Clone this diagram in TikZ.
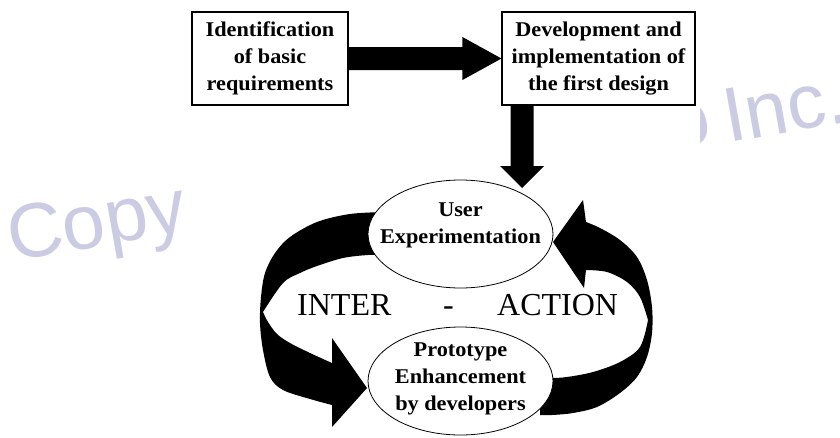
\documentclass[tikz,border=0pt]{standalone}
\usepackage{fontspec}
\setmainfont{Liberation Serif}
\newfontfamily\wmfont{Liberation Sans}
\newfontfamily\bxfont[FakeStretch=1.06]{Liberation Serif}
\usetikzlibrary{shapes.geometric,calc}
\definecolor{wm}{RGB}{203,203,228}
\tikzset{
  boxnode/.style={draw, line width=1.1pt, fill=white, align=center, inner sep=0pt,
    font=\bxfont\bfseries\fontsize{21}{27}\selectfont},
  ellnode/.style={ellipse, draw, line width=0.8pt, fill=white, inner sep=0pt,
    minimum width=185pt, minimum height=108pt},
  lbl/.style={align=center, inner sep=0pt, font=\bxfont\bfseries\fontsize{21}{27}\selectfont},
  bigtxt/.style={inner sep=0pt, font=\fontsize{32}{38}\selectfont},
  wmtxt/.style={text=wm, inner sep=0pt, rotate=10, font=\wmfont\fontsize{77}{80}\selectfont},
  blk/.style={fill=black}
}
\begin{document}
\begin{tikzpicture}[x=1pt, y=-1pt]
\fill[white] (0,0) rectangle (840,437);
\useasboundingbox (0,0) rectangle (840,437);

% watermark fragments
\node[wmtxt, anchor=base west] (wm1) at (12,262) {Copy};
\begin{scope}
  \clip (700,60) rectangle (720,170);
  \node[wmtxt, anchor=base west] (wm3) at (671,150) {o};
\end{scope}
\node[wmtxt, anchor=base west] (wm2) at (728,143) {Inc.};

% boxes
\node[boxnode, minimum width=156pt, minimum height=93pt] (b1) at (270,58.5)
  {Identification\\of basic\\requirements};
\node[boxnode, minimum width=193pt, minimum height=93pt] (b2) at (598.5,58.5)
  {Development and\\implementation of\\the first design};

% horizontal block arrow
\fill[blk] ($(b1.east)+(0,-11.5)$) -- ($(b2.west)+(-39,-11.5)$) -- ($(b2.west)+(-39,-21.5)$)
  -- (b2.west) -- ($(b2.west)+(-39,21.5)$) -- ($(b2.west)+(-39,11.5)$)
  -- ($(b1.east)+(0,11.5)$) -- cycle;

% down block arrow
\coordinate (dt) at (522,188);
\fill[blk] ($(b2.south -| dt)+(-11.5,0)$) -- ($(dt)+(-11.5,-22)$) -- ($(dt)+(-22,-22)$)
  -- (dt) -- ($(dt)+(22,-22)$) -- ($(dt)+(11.5,-22)$)
  -- ($(b2.south -| dt)+(11.5,0)$) -- cycle;

% left curved arrow (top ellipse -> bottom ellipse)
\fill[blk] plot[smooth, tension=0.55] coordinates {(385,212) (350,214) (317,222) (290,237) (275,253) (265,273) (261,297) (260,323) (263,350) (270,377) (283,390) (310,399) (332,405)}
  -- (332,427) -- (367,388) -- (332,338) -- (332,363)
  -- plot[smooth, tension=0.55] coordinates {(332,363) (310,353) (290,343) (277,334) (268,322) (263,312)}
  -- plot[smooth, tension=0.55] coordinates {(263,312) (283,283) (300,273) (317,266) (343,258) (368,255) (385,255)}
  -- cycle;

% right curved arrow (bottom ellipse -> top ellipse)
\fill[blk] plot[smooth, tension=0.55] coordinates {(540,378) (552,378) (567,377) (593,372) (620,362) (640,347) (648,320)}
  -- plot[smooth, tension=0.55] coordinates {(648,320) (640,297) (627,282) (607,272) (586,270)}
  -- (584,288) -- (553,242) -- (583,200) -- (586,222)
  -- plot[smooth, tension=0.55] coordinates {(586,222) (600,228) (620,240) (637,257) (647,280) (652,307) (652,333) (647,357) (637,377) (620,393) (597,407) (573,413) (552,415) (540,415)}
  -- cycle;

% ellipses
\node[ellnode] (ue) at (460.5,234) {};
\node[ellnode] (pe) at (460.5,381) {};
\node[lbl] (uet) at ([yshift=9pt]ue.center) {User\\Experimentation};
\node[lbl] (pet) at ([yshift=2pt]pe.center) {Prototype\\Enhancement\\by developers};

% INTER - ACTION
\node[bigtxt, anchor=base west] (t1) at (297,315) {INTER};
\node[bigtxt, anchor=base] (t2) at (448.5,315) {-};
\node[bigtxt, anchor=base west] (t3) at (497,315) {ACTION};
\end{tikzpicture}
\end{document}
